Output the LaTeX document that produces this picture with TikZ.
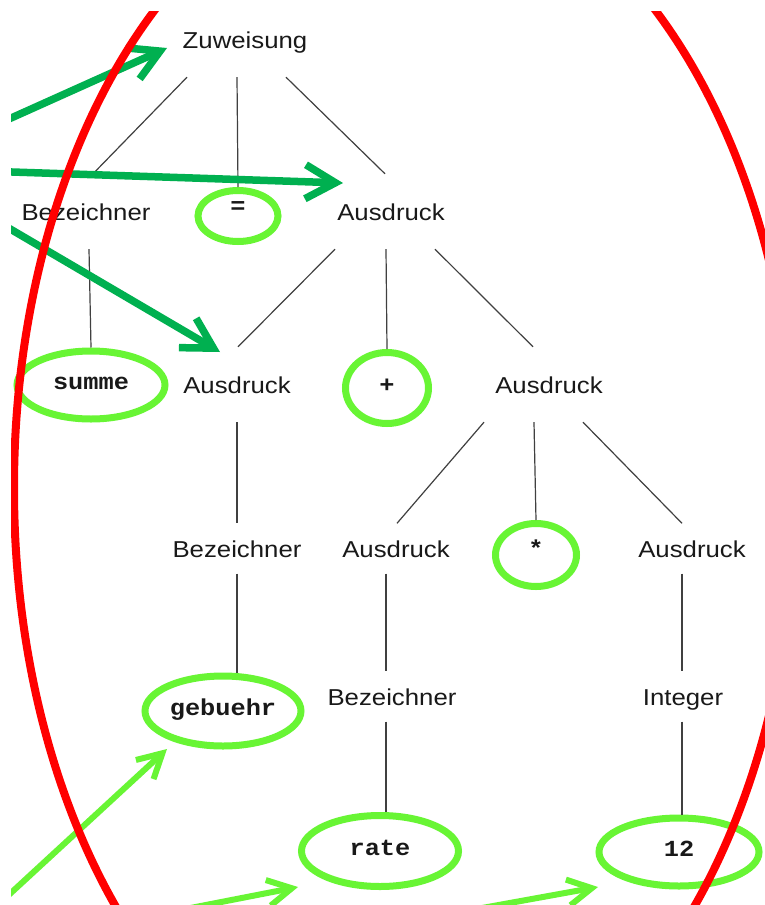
\documentclass[tikz,border=0pt]{standalone}
\usepackage{fontspec}
\setmainfont[FakeStretch=1.12]{Liberation Sans}
\setmonofont[FakeStretch=1.1]{Liberation Mono}
\usetikzlibrary{arrows.meta,shapes.geometric}

\definecolor{hellgruen}{RGB}{104,245,52}
\definecolor{dunkelgruen}{RGB}{0,176,80}
\definecolor{rot}{RGB}{255,0,0}

\tikzset{
  regel/.style={inner sep=0pt, text height=17pt, text depth=0pt, minimum height=75pt,
    text=black!90, font=\fontsize{23}{27}\selectfont},
  regelflach/.style={regel, minimum height=50pt},
  wort/.style={ellipse, draw=hellgruen, line width=7pt, inner sep=0pt, text height=9pt, text depth=0pt,
    text=black!90, font=\fontsize{23}{27}\selectfont\ttfamily\bfseries},
  kante/.style={black!75, line width=1.2pt},
  pfeil/.style={dunkelgruen, line width=7.5pt, -{Straight Barb[length=30pt,width=34pt]}},
  zeiger/.style={hellgruen, line width=6pt, -{Straight Barb[length=24pt,width=26pt]}}
}

\begin{document}
\begin{tikzpicture}[x=1pt, y=-1pt]

\path[fill=white] (0,0) rectangle (765,905);
\useasboundingbox (0,0) rectangle (765,905);

% Regeln
\node[regel] (zuw) at (245,39.5) {Zuweisung};
\node[regel] (bez1) at (86,211.5) {Bezeichner};
\node[regel] (aus1) at (391,211.5) {Ausdruck};
\node[regel] (aus2) at (237,384.5) {Ausdruck};
\node[regel] (aus3) at (549,384.5) {Ausdruck};
\node[regelflach] (bez2) at (237,548.5) {Bezeichner};
\node[regelflach] (aus4) at (396,548.5) {Ausdruck};
\node[regelflach] (aus5) at (692,548.5) {Ausdruck};
\node[regelflach] (bez3) at (392,696.5) {Bezeichner};
\node[regelflach] (int) at (683,696.5) {Integer};

% Token
\node[wort, minimum width=80pt, minimum height=51pt] (eq) at (238,216) {\raisebox{7pt}{=}};
\node[wort, minimum width=148pt, minimum height=68pt] (summe) at (91,385) {summe};
\node[wort, minimum width=83pt, minimum height=71pt] (plus) at (387,388) {+};
\node[wort, minimum width=81pt, minimum height=63pt] (mal) at (536,555) {\raisebox{3pt}{*}};
\node[wort, minimum width=156pt, minimum height=70pt] (gebuehr) at (223,711) {gebuehr};
\node[wort, minimum width=157pt, minimum height=71pt] (rate) at (380,851) {rate};
\node[wort, minimum width=160pt, minimum height=68pt] (zwoelf) at (679,852) {12};

\draw[kante] ([xshift=-58pt]zuw.south) -- ([xshift=7pt]bez1.north);
\draw[kante] ([xshift=-8pt]zuw.south) -- (eq.north);
\draw[kante] ([xshift=41pt]zuw.south) -- ([xshift=-6pt]aus1.north);
\draw[kante] ([xshift=3pt]bez1.south) -- (summe.north);
\draw[kante] ([xshift=-56pt]aus1.south) -- ([xshift=1pt]aus2.north);
\draw[kante] ([xshift=-5pt]aus1.south) -- (plus.north);
\draw[kante] ([xshift=44pt]aus1.south) -- ([xshift=-16pt]aus3.north);
\draw[kante] (aus2.south) -- (bez2.north);
\draw[kante] ([xshift=-65pt]aus3.south) -- ([xshift=1pt]aus4.north);
\draw[kante] ([xshift=-15pt]aus3.south) -- (mal.north);
\draw[kante] ([xshift=34pt]aus3.south) -- ([xshift=-10pt]aus5.north);
\draw[kante] (bez2.south) -- (bez2.south |- gebuehr.north);
\draw[kante] ([xshift=-10pt]aus4.south) -- ([xshift=-6pt]bez3.north);
\draw[kante] ([xshift=-10pt]aus5.south) -- ([xshift=-1pt]int.north);
\draw[kante] ([xshift=-6pt]bez3.south) -- ([xshift=6pt]rate.north);
\draw[kante] ([xshift=-1pt]int.south) -- ([xshift=3pt]zwoelf.north);

\begin{scope}
\clip (11,11) rectangle (765,905);
\coordinate (p1) at (0,123);
\coordinate (p2) at (0,171.6);
\coordinate (p3) at (0,223);
\coordinate (q1) at (0,903);
\coordinate (q2) at (170,912);
\coordinate (q3) at (460,912);
\draw[pfeil] (p1) -- ([shift={(-78,8.5)}]zuw.center);
\draw[pfeil] (p2) -- ([shift={(-48,-28.5)}]aus1.center);
\draw[pfeil] (p3) -- ([shift={(-17,-32.5)}]aus2.center);
\draw[zeiger] (q1) -- ([shift={(-56,38)}]gebuehr.center);
\draw[zeiger] (q2) -- ([shift={(-82,36)}]rate.center);
\draw[zeiger] (q3) -- ([shift={(-81,35)}]zwoelf.center);
% Umrandung
\draw[rot, line width=8pt] (405,488) ellipse [x radius=391, y radius=622];
\end{scope}

\end{tikzpicture}
\end{document}
